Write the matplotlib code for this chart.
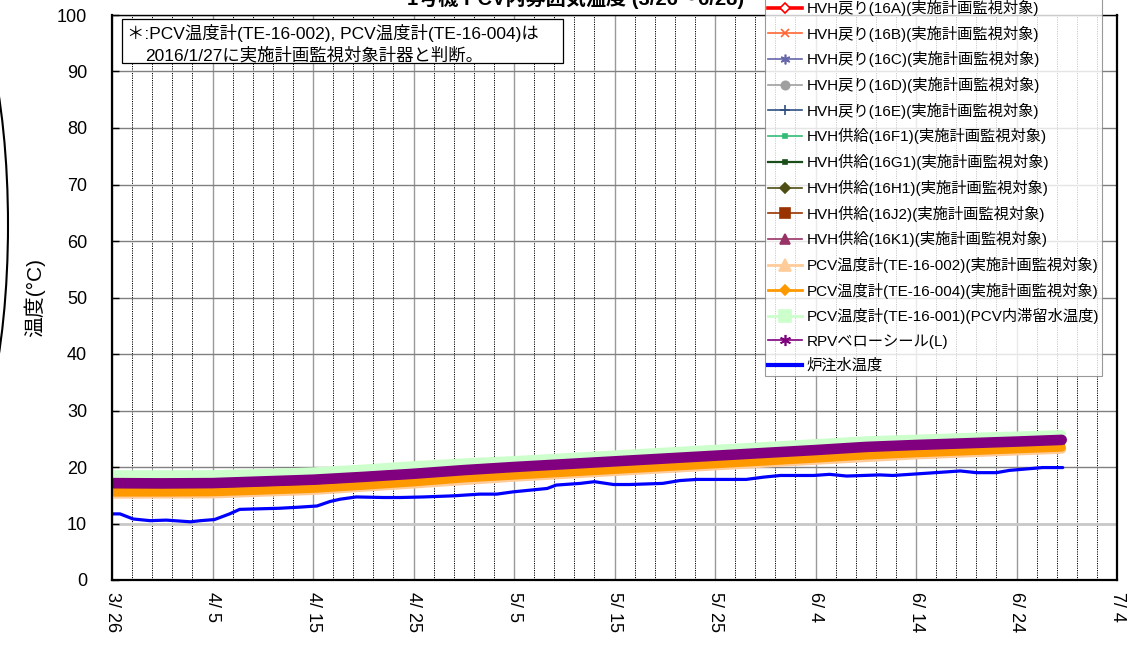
import matplotlib
matplotlib.use("Agg")
import matplotlib.pyplot as plt
from matplotlib.lines import Line2D
from matplotlib.patches import Ellipse, Rectangle
import pandas as pd

plt.rcParams['font.family'] = ['Liberation Sans', 'Noto Sans CJK JP', 'DejaVu Sans']

W, H = 1135, 653
start = pd.Timestamp('2017-03-26')
end = pd.Timestamp('2017-07-04')

# sample times, in days after 3/26
band_days = [0, 5, 10, 15, 20, 25, 30, 35, 40, 45, 50, 55, 60, 65, 70, 75, 80, 85, 90, 94.5]
hvh_days = [0, 10, 20, 30, 40, 50, 60, 70, 80, 90, 94.5]

# PCV temperature gauges
te_001 = [18.7, 18.7, 18.7, 18.9, 19.2, 19.7, 20.3, 20.8, 21.2, 21.7,
          22.2, 22.7, 23.2, 23.7, 24.2, 24.7, 25.0, 25.3, 25.55, 25.8]
te_004 = [15.5, 15.5, 15.55, 15.85, 16.15, 16.7, 17.3, 18.0, 18.5, 19.0,
          19.5, 20.0, 20.5, 21.0, 21.5, 22.05, 22.45, 22.8, 23.15, 23.45]
te_002 = [15.2, 15.25, 15.85, 17.0, 18.2, 19.2, 20.2, 21.2, 22.15, 22.85, 23.15]
# RPV bellows seal
rpv_l = [17.15, 17.1, 17.15, 17.45, 17.75, 18.25, 18.8, 19.45, 20.0, 20.5,
         21.0, 21.5, 22.0, 22.5, 23.0, 23.55, 23.9, 24.2, 24.5, 24.8]

# HVH return / supply temperatures
hvh_16a = [17.6, 17.6, 18.2, 19.2, 20.4, 21.4, 22.4, 23.4, 24.3, 24.9, 25.2]
hvh_16b = [17.9, 17.9, 18.5, 19.5, 20.7, 21.7, 22.7, 23.7, 24.6, 25.2, 25.5]
hvh_16c = [17.0, 17.0, 17.6, 18.6, 19.8, 20.8, 21.8, 22.8, 23.7, 24.3, 24.6]
hvh_16d = [17.3, 17.3, 17.9, 18.9, 20.1, 21.1, 22.1, 23.1, 24.0, 24.6, 24.9]
hvh_16e = [16.9, 16.9, 17.5, 18.5, 19.7, 20.7, 21.7, 22.7, 23.6, 24.2, 24.5]
hvh_16f1 = [17.4, 17.4, 18.0, 19.0, 20.2, 21.2, 22.2, 23.2, 24.1, 24.7, 25.0]
hvh_16g1 = [16.8, 16.8, 17.4, 18.4, 19.6, 20.6, 21.6, 22.6, 23.5, 24.1, 24.4]
hvh_16h1 = [17.2, 17.2, 17.8, 18.8, 20.0, 21.0, 22.0, 23.0, 23.9, 24.5, 24.8]
hvh_16j2 = [16.4, 16.5, 17.1, 18.1, 19.3, 20.3, 21.3, 22.3, 23.2, 23.8, 24.1]
hvh_16k1 = [17.1, 17.1, 17.7, 18.7, 19.9, 20.9, 21.9, 22.9, 23.8, 24.4, 24.7]

# reactor injection water temperature
inj_days = [0, 0.8, 2.1, 3.8, 5.4, 7.8, 8.8, 10.2, 11.7, 12.7, 14.7, 16.7, 18.7,
            20.4, 21.7, 22.7, 24.3, 27, 28.7, 31, 34, 36.6, 38.3, 39.9, 43.3,
            44.2, 46.6, 48, 49.9, 51.5, 54.8, 56.5, 58.2, 63.1, 64.8, 66.5,
            69.8, 71.4, 73.1, 76.4, 77.7, 81.1, 84.4, 86.0, 88.0, 89.3, 92.6, 94.6]
inj_temp = [11.7, 11.7, 10.8, 10.5, 10.6, 10.3, 10.5, 10.7, 11.7, 12.5, 12.6, 12.7,
            12.9, 13.1, 13.9, 14.3, 14.7, 14.6, 14.6, 14.7, 14.9, 15.2, 15.2, 15.6,
            16.2, 16.8, 17.1, 17.4, 16.9, 16.9, 17.1, 17.6, 17.8, 17.8, 18.2, 18.5,
            18.5, 18.7, 18.4, 18.6, 18.5, 18.9, 19.3, 19.0, 19.0, 19.4, 19.9, 19.9]

legend_labels = [
    'HVH戻り(16A)(実施計画監視対象)', 'HVH戻り(16B)(実施計画監視対象)',
    'HVH戻り(16C)(実施計画監視対象)', 'HVH戻り(16D)(実施計画監視対象)',
    'HVH戻り(16E)(実施計画監視対象)', 'HVH供給(16F1)(実施計画監視対象)',
    'HVH供給(16G1)(実施計画監視対象)', 'HVH供給(16H1)(実施計画監視対象)',
    'HVH供給(16J2)(実施計画監視対象)', 'HVH供給(16K1)(実施計画監視対象)',
    'PCV温度計(TE-16-002)(実施計画監視対象)', 'PCV温度計(TE-16-004)(実施計画監視対象)',
    'PCV温度計(TE-16-001)(PCV内滞留水温度)', 'RPVベローシール(L)', '炉注水温度',
]

ast = (6, 2, 0)
# (values, day grid, colour, marker, marker face, marker size, legend line width, plotted width)
series = [
    (hvh_16a, hvh_days, '#FF0000', 'D', 'white', 5, 2.6, 4),
    (hvh_16b, hvh_days, '#FF6633', 'x', None, 6, 1.2, 4),
    (hvh_16c, hvh_days, '#6666AA', ast, None, 7, 1.2, 4),
    (hvh_16d, hvh_days, '#A0A0A0', 'o', None, 6, 1.2, 4),
    (hvh_16e, hvh_days, '#2F4F80', '+', None, 7, 1.2, 4),
    (hvh_16f1, hvh_days, '#33BB77', 's', None, 3, 1.2, 4),
    (hvh_16g1, hvh_days, '#1A4D1A', 's', None, 3, 1.6, 4),
    (hvh_16h1, hvh_days, '#4D4D14', 'D', None, 5, 1.2, 4),
    (hvh_16j2, hvh_days, '#993300', 's', None, 7, 1.2, 5),
    (hvh_16k1, hvh_days, '#993366', '^', None, 7, 1.2, 4),
    (te_002, hvh_days, '#FFCC99', '^', None, 8, 2.0, 6.6),
    (te_004, band_days, '#FF9900', 'D', None, 5, 2.0, 6.0),
    (te_001, band_days, '#CCFFCC', 's', None, 8, 2.0, 6.0),
    (rpv_l, band_days, '#800080', ast, None, 8, 1.2, 7.6),
    (inj_temp, inj_days, '#0000FF', None, None, 0, 3.0, 2.3),
]

fig = plt.figure(figsize=(W / 100, H / 100), dpi=100)
ax = fig.add_axes([112 / W, 1 - 580 / H, 1005 / W, 565 / H])

handles = []
for (vals, days, color, marker, mfc, ms, leg_lw, lw), label in zip(series, legend_labels):
    t = start + pd.to_timedelta(days, unit='D')
    ax.plot(t, vals, color=color, lw=lw, solid_capstyle='round', solid_joinstyle='round')
    handles.append(Line2D([], [], color=color, lw=leg_lw, marker=marker,
                          markersize=ms, markerfacecolor=mfc if mfc else color,
                          markeredgecolor=color, markeredgewidth=1.2))

ax.set_xlim(start, end)
ax.set_ylim(0, 100)
ax.set_yticks(range(0, 101, 10))
major = pd.date_range(start, end, freq='10D')
minor = pd.date_range(start, end, freq='2D')
ax.set_xticks(major)
ax.set_xticks(minor, minor=True)
ax.set_xticklabels([f'{d.month}/ {d.day}' for d in major], rotation=-90)

ax.tick_params(axis='y', direction='in', length=5, width=1, labelsize=13, pad=18)
ax.tick_params(axis='x', which='both', direction='in', length=0, labelsize=13, pad=9)

ax.grid(which='minor', axis='x', color='black', linestyle=(0, (1.2, 1.2)), linewidth=0.7)
ax.grid(which='major', axis='x', color='#999999', linestyle='-', linewidth=1.0)
ax.grid(which='major', axis='y', color='#808080', linestyle='-', linewidth=1.0)
for val, gl in zip(ax.get_yticks(), ax.yaxis.get_gridlines()):
    if val == 10:
        gl.set_color('#C8C8C8')
        gl.set_linewidth(2.0)
ax.set_axisbelow(True)

for side, lw in (('left', 1.6), ('bottom', 1.6), ('right', 1.6), ('top', 1.0)):
    ax.spines[side].set_color('black')
    ax.spines[side].set_linewidth(lw)

fig.text(34 / W, 1 - 297.5 / H, '温度(°C)', rotation=90, ha='center', va='center', fontsize=15)
fig.text(576 / W, 1 - 5 / H, '1号機 PCV内雰囲気温度 (3/26～6/28)', ha='center',
         va='baseline', fontsize=14.5, fontweight='bold')

leg = fig.legend(handles, legend_labels, loc='lower left',
                 bbox_to_anchor=(765 / W, 1 - 376 / H), fontsize=11,
                 frameon=True, fancybox=False, edgecolor='#808080',
                 handlelength=2.2, handletextpad=0.3, labelspacing=0.63,
                 borderpad=0.2, borderaxespad=0)
leg.get_frame().set_linewidth(0.8)
leg.set_zorder(5)

fig.add_artist(Rectangle((122 / W, 1 - 63 / H), 441 / W, 44 / H, transform=fig.transFigure,
                         facecolor='white', edgecolor='black', linewidth=0.9, zorder=4))
fig.text(127 / W, 1 - 33 / H, '＊:PCV温度計(TE-16-002), PCV温度計(TE-16-004)は',
         ha='left', va='center', fontsize=12.5, zorder=6)
fig.text(145 / W, 1 - 55.5 / H, '2016/1/27に実施計画監視対象計器と判断。',
         ha='left', va='center', fontsize=12.5, zorder=6)

fig.add_artist(Ellipse((-52 / W, 1 - 225 / H), 120 / W, 488 / H, transform=fig.transFigure,
                       facecolor='none', edgecolor='black', linewidth=1.5))

fig.savefig('out.png', dpi=100)
